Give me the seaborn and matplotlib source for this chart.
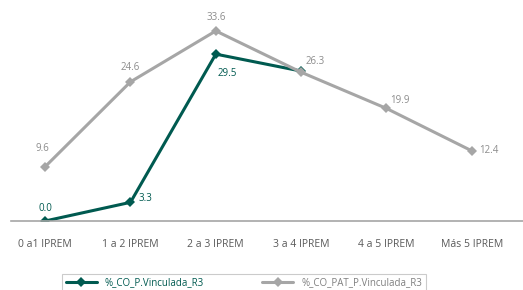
import numpy as np
import pandas as pd
import matplotlib
matplotlib.use("Agg")
import matplotlib.pyplot as plt
from matplotlib.ticker import FixedLocator
import seaborn as sns

categories = ["0 a1 IPREM", "1 a 2 IPREM", "2 a 3 IPREM", "3 a 4 IPREM", "4 a 5 IPREM", "Más 5 IPREM"]
co_vinculada = [0.0, 3.3, 29.5, 26.5, np.nan, np.nan]
co_pat_vinculada = [9.6, 24.6, 33.6, 26.3, 19.9, 12.4]
series_names = ["%_CO_P.Vinculada_R3", "%_CO_PAT_P.Vinculada_R3"]

green = "#005a50"
grey = "#a6a6a6"
text_grey = "#595959"

sns.set_style("white")
plt.rcParams["font.family"] = ["Open Sans", "DejaVu Sans"]

df = pd.DataFrame({
    "cat": categories * 2,
    "valor": co_vinculada + co_pat_vinculada,
    "serie": [series_names[0]] * 6 + [series_names[1]] * 6,
})

fig = plt.figure(figsize=(5.23, 2.90), dpi=100)
ax = fig.add_axes([11 / 523, 69 / 290, 512 / 523, 211 / 290])

sns.lineplot(data=df, x="cat", y="valor", hue="serie", style="serie",
             palette={series_names[0]: green, series_names[1]: grey},
             markers={series_names[0]: "D", series_names[1]: "D"},
             dashes=False, markersize=5, markeredgewidth=0, linewidth=2.2,
             sort=False, ax=ax, legend=True)

ax.set_xlim(-0.4, 5.6)
ax.set_ylim(0, 37.3)
ax.set_xlabel("")
ax.set_ylabel("")
ax.set_yticks([])
for s in ["top", "right", "left"]:
    ax.spines[s].set_visible(False)
ax.spines["bottom"].set_color(grey)
ax.spines["bottom"].set_linewidth(1.2)
ax.set_zorder(1)

ax.set_xticks(range(len(categories)))
ax.set_xticklabels(categories, fontsize=7.5, color=text_grey)
ax.tick_params(axis="x", which="major", length=0, pad=13)
ax.xaxis.set_minor_locator(FixedLocator([-0.4] + [i + 0.5 for i in range(len(categories))]))
ax.tick_params(axis="x", which="minor", direction="inout", length=5, width=1.2, color="#7f7f7f")

# data labels
green_offsets = [(0, 9), (11, 3), (8, -14), None]
for i, v in enumerate(co_vinculada):
    if np.isnan(v) or i >= len(green_offsets) or green_offsets[i] is None:
        continue
    ax.annotate(f"{v:.1f}", (i, v), xytext=green_offsets[i], textcoords="offset points",
                ha="center", va="center", fontsize=7, color=green, clip_on=False)

grey_offsets = [(-2, 13), (0, 10), (0, 10), (10, 8), (10, 6), (12, 0)]
for i, v in enumerate(co_pat_vinculada):
    ax.annotate(f"{v:.1f}", (i, v), xytext=grey_offsets[i], textcoords="offset points",
                ha="center", va="center", fontsize=7, color="#8c8c8c", clip_on=False)

handles, labels = ax.get_legend_handles_labels()
ax.get_legend().remove()
leg = fig.legend(handles, labels, loc="upper center", bbox_to_anchor=(244 / 523, 21 / 290),
                 ncol=2, frameon=True, fancybox=False, fontsize=7, handlelength=3.2,
                 columnspacing=6, borderpad=0.35, edgecolor="#bfbfbf")
leg.get_frame().set_linewidth(0.8)
for t, c in zip(leg.get_texts(), [green, "#7f7f7f"]):
    t.set_color(c)

fig.savefig("out.png", dpi=100)
